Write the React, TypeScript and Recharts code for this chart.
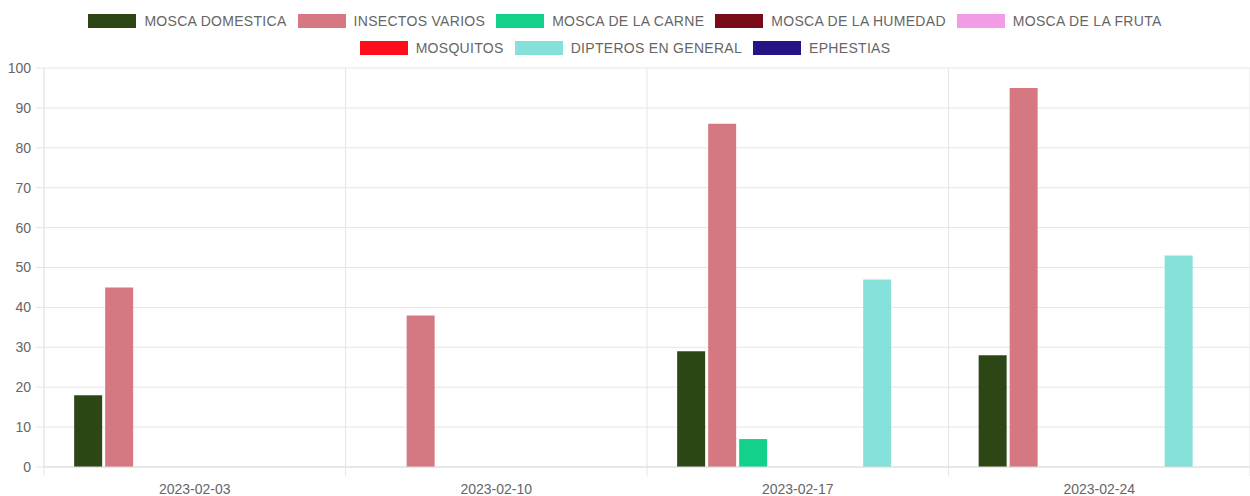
import React from 'react';
import { BarChart, Bar, XAxis, YAxis, CartesianGrid } from 'recharts';

const dates = ['2023-02-03', '2023-02-10', '2023-02-17', '2023-02-24'];

const moscaDomestica = [18, 0, 29, 28];
const insectosVarios = [45, 38, 86, 95];
const moscaCarne = [0, 0, 7, 0];
const moscaHumedad = [0, 0, 0, 0];
const moscaFruta = [0, 0, 0, 0];
const mosquitos = [0, 0, 0, 0];
const dipteros = [0, 0, 47, 53];
const ephestias = [0, 0, 0, 0];

const yTicks = [0, 10, 20, 30, 40, 50, 60, 70, 80, 90, 100];

const series = [
  { key: 'md', name: 'MOSCA DOMESTICA', color: '#2c4715', values: moscaDomestica },
  { key: 'iv', name: 'INSECTOS VARIOS', color: '#d67882', values: insectosVarios },
  { key: 'mc', name: 'MOSCA DE LA CARNE', color: '#13d08b', values: moscaCarne },
  { key: 'mh', name: 'MOSCA DE LA HUMEDAD', color: '#7a0c1a', values: moscaHumedad },
  { key: 'mf', name: 'MOSCA DE LA FRUTA', color: '#f29ce6', values: moscaFruta },
  { key: 'mq', name: 'MOSQUITOS', color: '#fd0e1a', values: mosquitos },
  { key: 'dg', name: 'DIPTEROS EN GENERAL', color: '#86e1da', values: dipteros },
  { key: 'ep', name: 'EPHESTIAS', color: '#251485', values: ephestias },
];

const data = dates.map((d, i) => {
  const row: Record<string, string | number> = { date: d };
  series.forEach((s) => (row[s.key] = s.values[i]));
  return row;
});

const W = 1250;
const H = 496;
const Y_W = 44;
const TOP = 68;
const X_H = 29;
const BAND = (W - Y_W) / dates.length;
const FONT = '"Liberation Sans", Arial, sans-serif';
const GRID = '#e6e6e6';

const legendRows = [series.slice(0, 5), series.slice(5)];

const Legend = () => (
  <div style={{ position: 'absolute', left: 0, top: 7, width: W, fontFamily: FONT, fontSize: 14, color: '#666' }}>
    {legendRows.map((row, r) => (
      <div key={r} style={{ display: 'flex', justifyContent: 'center', alignItems: 'center', height: 27 }}>
        {row.map((s) => (
          <div key={s.key} style={{ display: 'flex', alignItems: 'center', margin: '0 5.5px' }}>
            <span style={{ display: 'inline-block', width: 48, height: 14, background: s.color, marginRight: 8 }} />
            <span style={{ letterSpacing: 0.3 }}>{s.name}</span>
          </div>
        ))}
      </div>
    ))}
  </div>
);

const DateTick = (props: any) => {
  const { x, y, payload, index } = props;
  const left = x - BAND / 2;
  return (
    <g>
      <line x1={left} y1={y} x2={left} y2={y + 9} stroke={GRID} />
      {index === dates.length - 1 && <line x1={x + BAND / 2} y1={y} x2={x + BAND / 2} y2={y + 9} stroke={GRID} />}
      <text x={x} y={y + 27} textAnchor="middle" fill="#666" fontSize={14} fontFamily={FONT}>
        {payload.value}
      </text>
    </g>
  );
};

export default function App() {
  return (
    <div style={{ position: 'absolute', left: 0, top: 0, width: W, height: H, background: '#fff' }}>
      <Legend />
      <BarChart
        width={W}
        height={H}
        data={data}
        margin={{ top: TOP, right: 0, bottom: 0, left: 0 }}
        barCategoryGap="10%"
        barGap={3}
      >
        <CartesianGrid
          stroke={GRID}
          verticalCoordinatesGenerator={({ offset }: any) =>
            Array.from({ length: dates.length + 1 }, (_, i) => offset.left + (i * offset.width) / dates.length)
          }
        />
        <XAxis
          dataKey="date"
          height={X_H}
          tickLine={false}
          tickSize={0}
          tickMargin={0}
          axisLine={{ stroke: '#dcdcdc' }}
          tick={<DateTick />}
          interval={0}
        />
        <YAxis
          width={Y_W}
          domain={[0, 100]}
          ticks={yTicks}
          interval={0}
          tickSize={8}
          tickMargin={5}
          axisLine={{ stroke: GRID }}
          tickLine={{ stroke: GRID }}
          tick={{ fill: '#666', fontSize: 14, fontFamily: FONT }}
        />
        {series.map((s) => (
          <Bar key={s.key} dataKey={s.key} name={s.name} fill={s.color} isAnimationActive={false} />
        ))}
      </BarChart>
    </div>
  );
}
